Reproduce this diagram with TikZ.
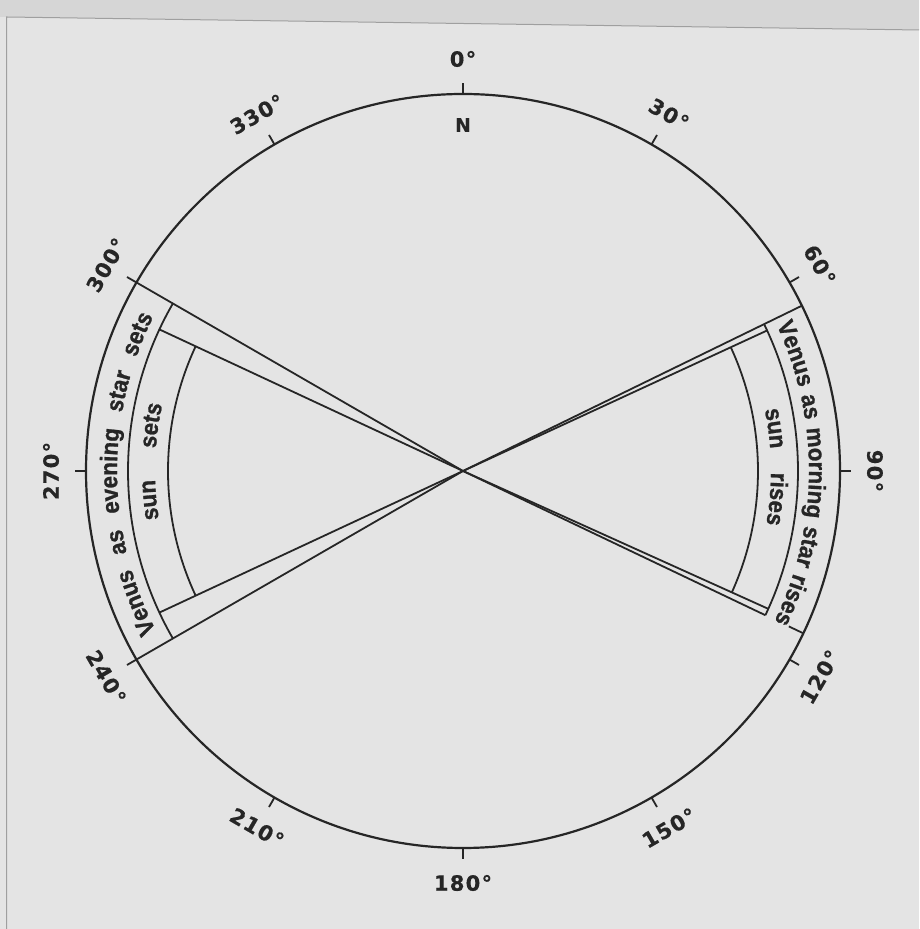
\documentclass[tikz,border=0pt]{standalone}
\usepackage{fontspec}
\setmainfont{Liberation Sans}
\newfontfamily\bandface[FakeBold=1.0, FakeStretch=0.93]{Liberation Sans Bold}
\newfontfamily\labelface[LetterSpace=6, FakeBold=0.4]{DejaVu Sans Bold}
\usetikzlibrary{decorations.text}
\definecolor{paper}{RGB}{228,228,228}
\definecolor{paperdark}{RGB}{214,214,214}
\definecolor{ink}{RGB}{38,38,38}
\newcommand{\lblfont}{\labelface\fontsize{21}{24}\selectfont}
\newcommand{\arcfont}{\bandface\fontsize{24}{28}\selectfont\color{ink}}
\begin{document}
\begin{tikzpicture}[x=1pt,y=1pt,
  ring/.style={draw=ink, line width=2.2pt},
  spoke/.style={draw=ink, line width=1.8pt},
  tickmark/.style={draw=ink, line width=1.8pt},
  deglabel/.style={text=ink, font=\lblfont, inner sep=0pt},
  arctext/.style={decorate, decoration={text along path, text={|\arcfont|#1}, text align={fit to path stretching spaces}}}
]
\fill[paper] (0,0) rectangle (919,929);
\useasboundingbox (0,0) rectangle (919,929);
\fill[paperdark] (0,929) -- (919,929) -- (919,899) -- (6.5,912) -- (0,912) -- cycle;
\draw[gray!75, line width=1pt] (6.5,0) -- (6.5,912) -- (919,899);
\begin{scope}[shift={(463,458)}]
  \coordinate (C) at (0,0);
  \draw[ring] (C) circle[radius=377];
  \foreach \a in {0,30,...,330} \draw[tickmark] ({90-\a}:377) -- ({90-\a}:388);
  \foreach \a/\r in {0/0,30/-30,60/-60,90/-90,120/60,150/30,180/0,210/-30,240/-60,270/90,300/60,330/30}
    \node[deglabel, rotate=\r] (d\a) at ({90-\a}:412) {\a°};
  \node[text=ink, font=\labelface\fontsize{19}{22}\selectfont, inner sep=0pt] (north) at (90:346) {N};
  % left sector (evening star / sun sets)
  \draw[spoke] (C) -- (150:377);
  \draw[spoke] (C) -- (210:377);
  \draw[spoke] (C) -- (155:335);
  \draw[spoke] (C) -- (205:335);
  \draw[spoke] (150:335) arc[start angle=150, end angle=210, radius=335];
  \draw[spoke] (155:295) arc[start angle=155, end angle=205, radius=295];
  % right sector (morning star / sun rises)
  \draw[spoke] (C) -- (26:377);
  \draw[spoke] (C) -- (-25.5:335);
  \draw[spoke] (-25.5:361) -- (-25.5:377);
  \draw[spoke] (C) -- (24.8:335);
  \draw[spoke] (C) -- (-24.3:335);
  \draw[spoke] (26:335) arc[start angle=26, end angle=-25.5, radius=335];
  \draw[spoke] (24.8:295) arc[start angle=24.8, end angle=-24.3, radius=295];
  % curved texts
  \path[arctext={Venus as morning star rises}] (25:346) arc[start angle=25, end angle=-25.8, radius=346];
  \path[arctext={Venus as evening star sets}] (207.5:346) arc[start angle=207.5, end angle=153.5, radius=346];
  \path[arctext={sun rises}] (11.5:308) arc[start angle=11.5, end angle=-10, radius=308];
  \path[arctext={sun sets}] (189:308) arc[start angle=189, end angle=167.5, radius=308];
\end{scope}
\end{tikzpicture}
\end{document}
